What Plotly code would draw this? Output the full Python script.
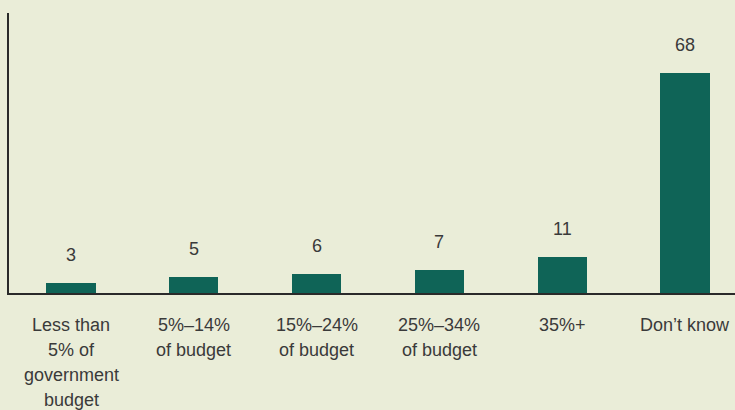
import plotly.graph_objects as go

# Survey responses: share of respondents (%) by budget share category
categories = [
    ["Less than", "5% of", "government", "budget"],
    ["5%\u201314%", "of budget"],
    ["15%\u201324%", "of budget"],
    ["25%\u201334%", "of budget"],
    ["35%+"],
    ["Don\u2019t know"],
]
values = [3, 5, 6, 7, 11, 68]

BG = "#EAEDD8"
BAR = "#0F6457"
TEXT = "#3A3A3A"
FONT = "Liberation Sans, Arial, sans-serif"
SIZE = 18
LINE_PITCH = 25

x_idx = list(range(len(categories)))

fig = go.Figure(
    go.Bar(
        x=x_idx,
        y=values,
        width=0.4,
        marker=dict(color=BAR, line=dict(width=0)),
        hoverinfo="skip",
    )
)

# value labels above each bar
for i, v in zip(x_idx, values):
    fig.add_annotation(
        x=i, y=v, text=str(v), showarrow=False,
        yanchor="middle", yshift=28,
        font=dict(family=FONT, size=SIZE, color=TEXT),
    )

# category labels under the axis, one annotation per line for even spacing
for i, lines in zip(x_idx, categories):
    for k, line in enumerate(lines):
        fig.add_annotation(
            x=i, xref="x", y=0, yref="paper", text=line, showarrow=False,
            yanchor="top", yshift=-(20 + LINE_PITCH * k),
            font=dict(family=FONT, size=SIZE, color=TEXT),
        )

fig.update_layout(
    width=735, height=410,
    margin=dict(l=9, r=0, t=13, b=117),
    paper_bgcolor=BG, plot_bgcolor=BG,
    showlegend=False,
    font=dict(family=FONT, size=SIZE, color=TEXT),
    bargap=0,
)
fig.update_xaxes(
    range=[-0.505, 5.407],
    showgrid=False, zeroline=False,
    showline=True, linecolor="#2A2A2A", linewidth=1.5,
    ticks="", showticklabels=False,
)
fig.update_yaxes(
    range=[0, 86.55],
    showgrid=False, zeroline=False,
    showline=True, linecolor="#2A2A2A", linewidth=1.5,
    showticklabels=False, ticks="",
)

fig.write_html("out.html")
